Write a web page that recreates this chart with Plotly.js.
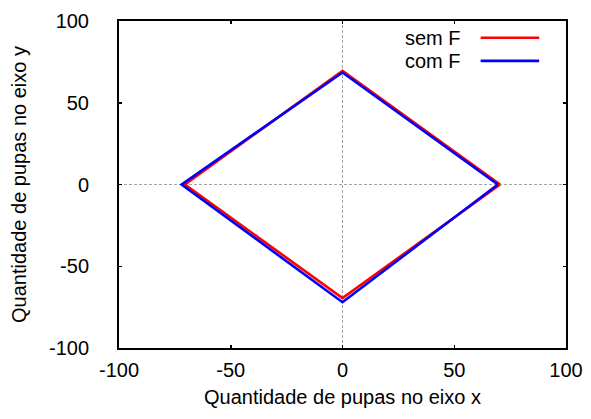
<!DOCTYPE html>
<html>
<head>
<meta charset="utf-8">
<script src="https://cdn.plot.ly/plotly-3.0.1.min.js"></script>
<style>
  html, body { margin: 0; padding: 0; background: #fff; }
  #chart { width: 591px; height: 419px; }
</style>
</head>
<body>
<div id="chart"></div>
<script>
// Pupa counts along each axis: a closed loop through the four extremes
var semF_x = [70.5, 0, -70.5, 0, 70.5];
var semF_y = [0, 69.5, 0, -69.5, 0];
var comF_x = [69.5, 0, -72, 0, 69.5];
var comF_y = [0, 68.5, 0, -72, 0];

var seriesNames = ["sem F", "com F"];
var seriesColors = ["#ff0000", "#0000ff"];
var tickValues = [-100, -50, 0, 50, 100];
var tickLabels = ["-100", "-50", "0", "50", "100"];

var font = { family: "Liberation Sans, Arial, sans-serif", size: 20, color: "#000" };

var traces = [
  { x: semF_x, y: semF_y, name: seriesNames[0], mode: "lines",
    line: { color: seriesColors[0], width: 2.6 } },
  { x: comF_x, y: comF_y, name: seriesNames[1], mode: "lines",
    line: { color: seriesColors[1], width: 2.6 } }
];

function axis(title, labelGap, titleGap) {
  return {
    range: [-100, 100],
    tickvals: tickValues,
    ticktext: tickLabels,
    ticks: "inside",
    ticklen: 3,
    tickwidth: 1.5,
    tickcolor: "#000",
    ticklabelstandoff: labelGap,
    showline: true,
    linecolor: "#000",
    linewidth: 2,
    mirror: "ticks",
    showgrid: false,
    zeroline: false,
    tickfont: font,
    title: { text: title, font: font, standoff: titleGap },
    fixedrange: true
  };
}

var layout = {
  width: 591,
  height: 419,
  margin: { l: 119, r: 25, t: 21, b: 71 },
  paper_bgcolor: "#fff",
  plot_bgcolor: "#fff",
  showlegend: false,
  font: font,
  xaxis: axis("Quantidade de pupas no eixo x", 3, 10),
  yaxis: axis("Quantidade de pupas no eixo y", 24, 17),
  shapes: [
    // dotted zero axes
    { type: "line", xref: "x", yref: "paper", x0: 0, x1: 0, y0: 0, y1: 1,
      line: { color: "#a0a0a0", width: 1, dash: "3px,2px" }, layer: "below" },
    { type: "line", xref: "paper", yref: "y", x0: 0, x1: 1, y0: 0, y1: 0,
      line: { color: "#a0a0a0", width: 1, dash: "3px,2px" }, layer: "below" },
    // key samples
    { type: "line", xref: "paper", yref: "paper", x0: 0.809, x1: 0.940, y0: 0.949, y1: 0.949,
      line: { color: seriesColors[0], width: 2.6 } },
    { type: "line", xref: "paper", yref: "paper", x0: 0.809, x1: 0.940, y0: 0.878, y1: 0.878,
      line: { color: seriesColors[1], width: 2.6 } }
  ],
  annotations: [
    { xref: "paper", yref: "paper", x: 0.770, y: 0.949, xanchor: "right", yanchor: "middle",
      text: seriesNames[0], showarrow: false, font: font },
    { xref: "paper", yref: "paper", x: 0.770, y: 0.878, xanchor: "right", yanchor: "middle",
      text: seriesNames[1], showarrow: false, font: font }
  ]
};

Plotly.newPlot("chart", traces, layout, { displayModeBar: false, staticPlot: true });
</script>
</body>
</html>
